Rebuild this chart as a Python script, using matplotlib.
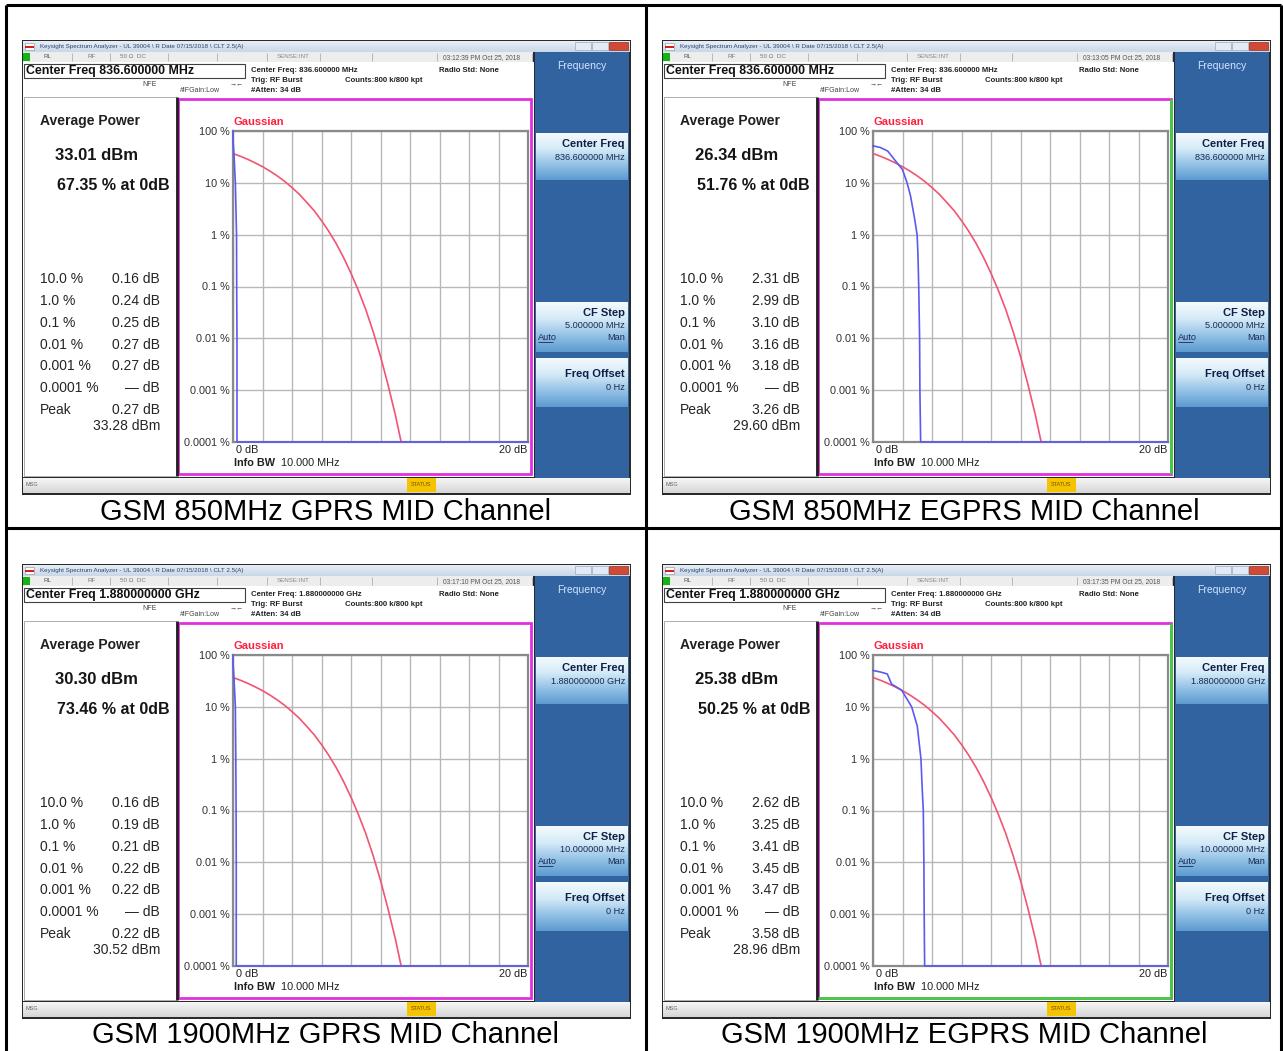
import numpy as np
import matplotlib
matplotlib.use('Agg')
import matplotlib.pyplot as plt
from matplotlib.patches import Rectangle
from matplotlib.colors import LinearSegmentedColormap
from matplotlib.ticker import NullLocator

W, H = 1283, 1051
plt.rcParams['font.family'] = ['Liberation Sans', 'DejaVu Sans']

# ---------------- data ----------------
captions = ["GSM 850MHz GPRS MID Channel", "GSM 850MHz EGPRS MID Channel",
            "GSM 1900MHz GPRS MID Channel", "GSM 1900MHz EGPRS MID Channel"]
center_freqs = ["836.600000 MHz", "836.600000 MHz", "1.880000000 GHz", "1.880000000 GHz"]
timestamps = ["03:12:39 PM Oct 25, 2018", "03:13:05 PM Oct 25, 2018",
              "03:17:10 PM Oct 25, 2018", "03:17:35 PM Oct 25, 2018"]
cf_steps = ["5.000000 MHz", "5.000000 MHz", "10.000000 MHz", "10.000000 MHz"]
avg_power = ["33.01 dBm", "26.34 dBm", "30.30 dBm", "25.38 dBm"]
pct_at_0db = ["67.35 % at 0dB", "51.76 % at 0dB", "73.46 % at 0dB", "50.25 % at 0dB"]
stat_levels = ["10.0 %", "1.0 %", "0.1 %", "0.01 %", "0.001 %", "0.0001 %", "Peak"]
stat_values_1 = ["0.16 dB", "0.24 dB", "0.25 dB", "0.27 dB", "0.27 dB", "\u2014 dB", "0.27 dB"]
stat_values_2 = ["2.31 dB", "2.99 dB", "3.10 dB", "3.16 dB", "3.18 dB", "\u2014 dB", "3.26 dB"]
stat_values_3 = ["0.16 dB", "0.19 dB", "0.21 dB", "0.22 dB", "0.22 dB", "\u2014 dB", "0.22 dB"]
stat_values_4 = ["2.62 dB", "3.25 dB", "3.41 dB", "3.45 dB", "3.47 dB", "\u2014 dB", "3.58 dB"]
peak_dbm = ["33.28 dBm", "29.60 dBm", "30.52 dBm", "28.96 dBm"]

y_tick_vals = [100, 10, 1, 0.1, 0.01, 0.001, 0.0001]
y_tick_labels = ["100 %", "10 %", "1 %", "0.1 %", "0.01 %", "0.001 %", "0.0001 %"]

# Gaussian reference curve
gauss_db = [0.0, 0.5, 1.0, 1.5, 2.0, 2.5, 3.0, 3.5, 4.0, 4.5, 5.0, 5.5, 6.0,
            6.5, 7.0, 7.5, 8.0, 8.5, 9.0, 9.5, 10.0, 10.5, 11.0, 11.4]
gauss_pct = [36.8, 32.6, 28.4, 24.3, 20.5, 16.9, 13.6, 10.7, 8.1, 6.0, 4.2, 2.9, 1.87,
             1.15, 0.67, 0.36, 0.18, 0.084, 0.036, 0.0135, 0.0045, 0.0013, 0.00034, 0.0001]

# Measured CCDF traces
trace1_db = [0.0, 0.0, 0.08, 0.16, 0.24, 0.25, 0.27, 0.27, 0.27, 20.0]
trace1_pct = [100, 67.35, 30, 10, 1, 0.1, 0.01, 0.001, 0.0001, 0.0001]
trace2_db = [0.0, 0.5, 1.0, 1.5, 2.0, 2.31, 2.55, 2.8, 2.99, 3.05, 3.10, 3.16, 3.18, 3.23, 20.0]
trace2_pct = [51.76, 48, 41, 27, 18, 10, 5.5, 2.2, 1.0, 0.4, 0.1, 0.01, 0.001, 0.0001, 0.0001]
trace3_db = [0.0, 0.0, 0.08, 0.16, 0.19, 0.21, 0.22, 0.22, 0.22, 20.0]
trace3_pct = [100, 73.46, 30, 10, 1, 0.1, 0.01, 0.001, 0.0001, 0.0001]
trace4_db = [0.0, 0.5, 0.97, 1.26, 1.94, 2.62, 3.0, 3.25, 3.34, 3.41, 3.45, 3.47, 3.5, 20.0]
trace4_pct = [50.25, 47, 43, 27.5, 21, 10, 4.3, 1.0, 0.25, 0.1, 0.01, 0.001, 0.0001, 0.0001]

stat_values = [stat_values_1, stat_values_2, stat_values_3, stat_values_4]
traces = [(trace1_db, trace1_pct), (trace2_db, trace2_pct),
          (trace3_db, trace3_pct), (trace4_db, trace4_pct)]

# ---------------- layout ----------------
origins = [(22, 40), (662, 40), (22, 564), (662, 564)]
caption_pos = [(326, 512), (964, 512), (326, 1035), (964, 1035)]

fig = plt.figure(figsize=(W / 100, H / 100), dpi=100)
fig.patch.set_facecolor('white')
bg = fig.add_axes([0, 0, 1, 1])
bg.set_xlim(0, W)
bg.set_ylim(H, 0)
bg.axis('off')


def rect(x0, y0, x1, y1, fc='none', ec='none', lw=0, z=1):
    bg.add_patch(Rectangle((x0, y0), x1 - x0, y1 - y0, facecolor=fc,
                           edgecolor=ec, linewidth=lw, zorder=z))


def grad(x0, y0, x1, y1, colors, z=1):
    cmap = LinearSegmentedColormap.from_list('g', colors)
    g = np.linspace(0, 1, 64).reshape(-1, 1)
    bg.imshow(g, extent=(x0, x1, y1, y0), aspect='auto', cmap=cmap, zorder=z,
              interpolation='bilinear', origin='upper')


def txt(x, y, s, size, ha='left', va='center', color='black', weight='normal', z=6, **kw):
    bg.text(x, y, s, fontsize=size, ha=ha, va=va, color=color,
            fontweight=weight, zorder=z, **kw)


def line(xs, ys, color='black', lw=1, z=4):
    bg.plot(xs, ys, color=color, lw=lw, zorder=z, solid_capstyle='butt')


title_text = "Keysight Spectrum Analyzer - UL 39004 \\ R Date 07/15/2018 \\ CLT 2.5(A)"

for i, (ox, oy) in enumerate(origins):
    right_col = (i % 2 == 1)
    # outer frame
    rect(ox, oy, ox + 609, oy + 455, fc='#2a2a2a', z=1)
    # title bar
    grad(ox + 1, oy + 1, ox + 608, oy + 12, ['#e8eef6', '#c9d7e7'], z=2)
    rect(ox + 3, oy + 3, ox + 12, oy + 10, fc='white', ec='#888888', lw=0.4, z=3)
    rect(ox + 3, oy + 6, ox + 12, oy + 8, fc='#d02020', z=3)
    txt(ox + 18, oy + 6.5, title_text, 4.5, color='#2a4470')
    rect(ox + 553, oy + 2, ox + 569, oy + 10, fc='#e2eaf4', ec='#9aaac0', lw=0.5, z=3)
    rect(ox + 570, oy + 2, ox + 586, oy + 10, fc='#e2eaf4', ec='#9aaac0', lw=0.5, z=3)
    rect(ox + 587, oy + 2, ox + 606, oy + 10, fc='#d24a36', ec='#903020', lw=0.5, z=3)
    # status row
    rect(ox + 1, oy + 12, ox + 511, oy + 22, fc='#ededed', z=2)
    rect(ox + 1, oy + 13, ox + 8, oy + 21, fc='#14b414', z=3)
    for sx in [50, 88, 146, 195, 245, 298, 350, 415, 510]:
        line([ox + sx, ox + sx], [oy + 13, oy + 21], color='#b0b0b0', lw=0.6)
    txt(ox + 21, oy + 17, "RL", 4.5, color='#555555')
    txt(ox + 66, oy + 17, "RF", 4.5, color='#777777')
    txt(ox + 98, oy + 17, "50 \u03a9  DC", 4.5, color='#777777')
    txt(ox + 255, oy + 17, "SENSE:INT", 4.5, color='#888888')
    txt(ox + 421, oy + 17.5, timestamps[i], 4.8, color='#555555')
    # header area + body background
    rect(ox + 1, oy + 22, ox + 512, oy + 437, fc='white', z=2)
    rect(ox + 2, oy + 24, ox + 223, oy + 38, fc='white', ec='#404040', lw=0.8, z=3)
    txt(ox + 4, oy + 31, "Center Freq " + center_freqs[i], 8.9, weight='bold', color='#101010')
    txt(ox + 128, oy + 44, "NFE", 5, ha='center', color='#444444')
    txt(ox + 215, oy + 44, "\u2192\u2190", 5, ha='center', color='#333333')
    txt(ox + 158, oy + 51, "#IFGain:Low", 5, color='#444444')
    txt(ox + 229, oy + 30, "Center Freq: " + center_freqs[i], 5.6, weight='bold', color='#222222')
    txt(ox + 229, oy + 40, "Trig: RF Burst", 5.6, weight='bold', color='#222222')
    txt(ox + 229, oy + 50, "#Atten: 34 dB", 5.6, weight='bold', color='#222222')
    txt(ox + 323, oy + 40, "Counts:800 k/800 kpt", 5.6, weight='bold', color='#222222')
    txt(ox + 417, oy + 30, "Radio Std: None", 5.6, weight='bold', color='#222222')
    # left result panel
    rect(ox + 2, oy + 57, ox + 154, oy + 436, fc='white', ec='#a0a0a0', lw=0.6, z=3)
    line([ox + 154.5, ox + 154.5], [oy + 57, oy + 436], color='#202020', lw=2)
    txt(ox + 18, oy + 81, "Average Power", 10, weight='bold', color='#202020')
    txt(ox + 33, oy + 116, avg_power[i], 12, weight='bold', color='#151515')
    txt(ox + 148, oy + 145, pct_at_0db[i], 11.5, ha='right', weight='bold', color='#151515')
    row_y = [239, 261, 283, 305, 326, 348, 370]
    for lvl, val, ry in zip(stat_levels, stat_values[i], row_y):
        txt(ox + 18, oy + ry, lvl, 10, color='#252525')
        txt(ox + 138, oy + ry, val, 10, ha='right', color='#252525')
    txt(ox + 138, oy + 386, peak_dbm[i], 10, ha='right', color='#252525')
    # graph panel
    rect(ox + 156, oy + 59, ox + 509, oy + 434, fc='white', ec='#e030e0', lw=2, z=3)
    if right_col:
        line([ox + 509, ox + 509], [oy + 59, oy + 434], color='#40d040', lw=2, z=4)
        if i == 3:
            line([ox + 156, ox + 509], [oy + 434, oy + 434], color='#40d040', lw=2, z=4)
    txt(ox + 212, oy + 82, "Gaussian", 8, weight='bold', color='#ff1f3f')
    txt(ox + 214, oy + 410, "0 dB", 7.8, color='#202020')
    txt(ox + 505, oy + 410, "20 dB", 7.8, ha='right', color='#202020')
    txt(ox + 212, oy + 423, "Info BW", 7.8, weight='bold', color='#202020')
    txt(ox + 259, oy + 423, "10.000 MHz", 7.8, color='#202020')
    # softkey panel
    rect(ox + 513, oy + 12, ox + 607, oy + 438, fc='#3063a0', z=2)
    txt(ox + 560, oy + 26, "Frequency", 7.5, ha='center', color='#d4e6ff')
    btn_colors = ['#f4fafd', '#d4eaf7', '#94c2e6', '#5d9bd0']
    for (b0, b1) in [(93, 140), (262, 312), (318, 367)]:
        grad(ox + 514, oy + b0, ox + 606, oy + b1, btn_colors, z=3)
    txt(ox + 603, oy + 104, "Center Freq", 8, ha='right', weight='bold', color='#0e1e46')
    txt(ox + 603, oy + 118, center_freqs[i], 6.6, ha='right', color='#1a2a50')
    txt(ox + 603, oy + 273, "CF Step", 8, ha='right', weight='bold', color='#0e1e46')
    txt(ox + 603, oy + 286, cf_steps[i], 6.6, ha='right', color='#1a2a50')
    txt(ox + 516, oy + 298, "Auto", 6.6, color='#1a2a50')
    line([ox + 516, ox + 531], [oy + 302, oy + 302], color='#1a2a50', lw=0.6, z=6)
    txt(ox + 603, oy + 298, "Man", 6.6, ha='right', color='#1a2a50')
    txt(ox + 603, oy + 334, "Freq Offset", 8, ha='right', weight='bold', color='#0e1e46')
    txt(ox + 603, oy + 348, "0 Hz", 6.6, ha='right', color='#1a2a50')
    # bottom status bar
    grad(ox + 1, oy + 438, ox + 608, oy + 453, ['#f6f6f6', '#d6d6d6'], z=2)
    txt(ox + 4, oy + 445, "MSG", 4, color='#666666')
    rect(ox + 385, oy + 438, ox + 414, oy + 452, fc='#f4c400', z=3)
    txt(ox + 399.5, oy + 445, "STATUS", 4, ha='center', color='#7a5000')
    # caption
    cx, cy = caption_pos[i]
    txt(cx, cy, captions[i], 21, ha='center', color='black')

# table lines
line([6, 1281], [5, 5], lw=2.2, z=8)
line([6, 6], [5, H], lw=2.2, z=8)
line([1281, 1281], [5, H], lw=2.2, z=8)
line([646, 646], [5, H], lw=2.2, z=8)
line([6, 1281], [528, 528], lw=2.2, z=8)

bg.set_xlim(0, W)
bg.set_ylim(H, 0)

# ---------------- CCDF plots ----------------
for i, (ox, oy) in enumerate(origins):
    x0, y0, x1, y1 = ox + 211, oy + 91, ox + 506, oy + 402
    ax = fig.add_axes([x0 / W, 1 - y1 / H, (x1 - x0) / W, (y1 - y0) / H])
    ax.set_facecolor('white')
    ax.set_yscale('log')
    ax.set_xlim(0, 20)
    ax.set_ylim(1e-4, 100)
    ax.set_xticks(np.arange(0, 21, 2))
    ax.set_xticklabels([])
    ax.set_yticks(y_tick_vals)
    ax.set_yticklabels(y_tick_labels, fontsize=7.8, color='#303030')
    ax.yaxis.set_minor_locator(NullLocator())
    ax.tick_params(length=0, pad=2.5)
    ax.grid(True, color='#b8b8b8', lw=1)
    for sp in ax.spines.values():
        sp.set_color('#8a8a8a')
        sp.set_linewidth(1.6)
    ax.plot(gauss_db, gauss_pct, color='#f25472', lw=1.2, zorder=3)
    tdb, tpct = traces[i]
    ax.plot(tdb, tpct, color='#5a5af2', lw=1.2, zorder=4, clip_on=False)

fig.savefig('out.png', dpi=100, facecolor='white')
